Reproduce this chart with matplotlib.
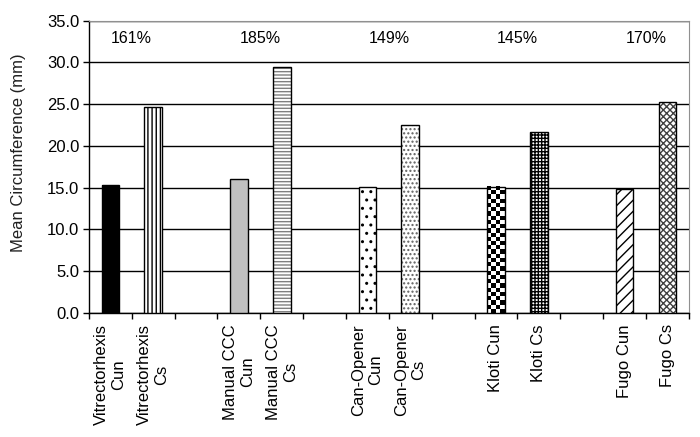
import numpy as np
import matplotlib
matplotlib.use("Agg")
import matplotlib.pyplot as plt
plt.rcParams.update({"font.family": "Liberation Sans", "font.size": 12})

labels = ["Vitrectorhexis\nCun", "Vitrectorhexis\nCs", "",
          "Manual CCC\nCun", "Manual CCC\nCs", "",
          "Can-Opener\nCun", "Can-Opener\nCs", "",
          "Kloti Cun", "Kloti Cs", "",
          "Fugo Cun", "Fugo Cs"]
values = [15.3, 24.7, None, 16.0, 29.5, None, 15.1, 22.5, None, 15.1, 21.7, None, 14.8, 25.3]
ratios = ["161%", "185%", "149%", "145%", "170%"]

# fill, hatch, hatch colour per bar ("checker" = drawn as image)
styles = [("black", "", "black"), ("white", "||||", "black"), None,
          ("#c0c0c0", "", "black"), ("white", "-----", "#808080"), None,
          ("white", "..", "black"), ("white", "....", "#606060"), None,
          ("checker", "", "black"), ("white", "+++++", "black"), None,
          ("white", "///", "black"), ("white", "xxxxx", "#404040")]

fig = plt.figure(figsize=(7, 4.37), dpi=100)
ax = fig.add_axes([0.127, 0.2838, 0.857, 0.6688])

x = np.arange(len(labels))
for i, v in enumerate(values):
    if v is None:
        continue
    fc, hatch, hc = styles[i]
    if fc == "checker":
        b = ax.bar(x[i], v, width=0.41, fill=False, linewidth=0)[0]
        ny = int(round(v * 8.36 / 4.2))
        board = np.indices((ny, 4)).sum(axis=0) % 2
        ax.imshow(board, cmap="gray", extent=(b.get_x(), b.get_x() + b.get_width(), 0, v),
                  aspect="auto", interpolation="nearest", zorder=3)
    else:
        ax.bar(x[i], v, width=0.41, color=fc, edgecolor=hc, hatch=hatch, linewidth=0, zorder=3)
    ax.bar(x[i], v, width=0.41, fill=False, edgecolor="black", linewidth=1, zorder=4)

for k, r in enumerate(ratios):
    ax.text(3 * k + 0.5, 32.9, r, ha="center", va="center", fontsize=11.5)

ax.set_xlim(-0.5, len(labels) - 0.5)
ax.set_ylim(0, 35)
ax.set_yticks(np.arange(0, 35.1, 5))
ax.set_yticklabels([f"{t:.1f}" for t in np.arange(0, 35.1, 5)], fontsize=12)
ax.yaxis.grid(True, color="black", linewidth=1)
ax.set_axisbelow(True)

ax.set_xticks(x)
ax.set_xticklabels(labels, rotation=90, ha="center", va="top", multialignment="center", fontsize=12)
ax.tick_params(axis="x", length=0, pad=8)
ax.set_xticks(np.arange(-0.5, len(labels), 1), minor=True)
ax.tick_params(axis="x", which="minor", length=4, direction="out", width=1)
ax.tick_params(axis="y", length=4, direction="out", width=1, pad=3)

for s in ["top", "right"]:
    ax.spines[s].set_color("#909090")
ax.spines["left"].set_linewidth(1)
ax.spines["bottom"].set_linewidth(1)

ax.set_ylabel("Mean Circumference (mm)", fontsize=12, color="#202020")
ax.yaxis.set_label_coords(-0.105, 0.548)

fig.savefig("out.png", dpi=100)
